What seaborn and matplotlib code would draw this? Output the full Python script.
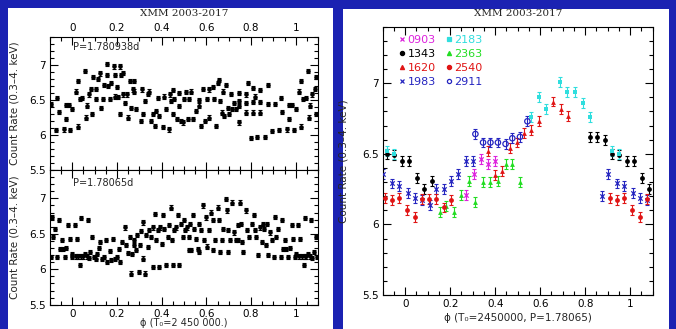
import numpy as np
import pandas as pd
import matplotlib.pyplot as plt
import seaborn as sns
from matplotlib.patches import Rectangle
from matplotlib.lines import Line2D
from matplotlib.ticker import MultipleLocator

sns.set_style("ticks")
plt.rcParams["font.family"] = ["DejaVu Sans"]

# ---- data (phases in [0, 1), wrapped when drawn) ----
ERR = 0.03

# left top: P=1.780938d
top_phase = [0.000, 0.015, 0.025, 0.025, 0.033, 0.045, 0.055, 0.060, 0.065, 0.074,
             0.085, 0.089, 0.092, 0.104, 0.107, 0.115, 0.122, 0.129, 0.137, 0.144,
             0.155, 0.155, 0.159, 0.167, 0.174, 0.185, 0.189, 0.193, 0.199, 0.204,
             0.214, 0.214, 0.219, 0.226, 0.229, 0.238, 0.246, 0.249, 0.256, 0.263,
             0.271, 0.278, 0.286, 0.278, 0.308, 0.313, 0.318, 0.327, 0.338, 0.345,
             0.353, 0.360, 0.368, 0.375, 0.382, 0.390, 0.405, 0.412, 0.420, 0.438,
             0.435, 0.442, 0.449, 0.452, 0.457, 0.467, 0.476, 0.479, 0.487, 0.494,
             0.501, 0.509, 0.516, 0.524, 0.531, 0.539, 0.554, 0.565, 0.568, 0.576,
             0.586, 0.595, 0.601, 0.610, 0.613, 0.628, 0.635, 0.643, 0.650, 0.655,
             0.661, 0.670, 0.676, 0.680, 0.688, 0.695, 0.702, 0.710, 0.717, 0.725,
             0.735, 0.747, 0.747, 0.747, 0.747, 0.777, 0.777, 0.777, 0.787, 0.811,
             0.811, 0.811, 0.817, 0.841, 0.841, 0.841, 0.874, 0.874, 0.906, 0.933,
             0.941, 0.970, 0.970, 0.985, 0.799, 0.829, 0.862, 0.896, 0.925, 0.962,
             0.991]
top_rate = [6.37, 6.62, 6.12, 6.77, 6.52, 6.53, 6.91, 6.25, 6.42, 6.58,
            6.66, 6.30, 6.83, 6.66, 6.51, 6.80, 6.88, 6.39, 6.51, 6.72,
            7.02, 6.86, 6.70, 6.51, 6.74, 6.98, 6.86, 6.55, 6.69, 6.54,
            6.98, 6.30, 6.86, 6.58, 6.89, 6.46, 6.58, 6.25, 6.77, 6.39,
            6.65, 6.62, 6.37, 6.77, 6.20, 6.65, 6.30, 6.48, 6.59, 6.62,
            6.20, 6.30, 6.13, 6.34, 6.53, 6.27, 6.11, 6.55, 6.37, 6.58,
            6.08, 6.48, 6.64, 6.30, 6.52, 6.23, 6.41, 6.60, 6.20, 6.18,
            6.51, 6.61, 6.23, 6.51, 6.62, 6.23, 6.34, 6.42, 6.50, 6.13,
            6.66, 6.20, 6.51, 6.25, 6.65, 6.69, 6.51, 6.13, 6.74, 6.79,
            6.48, 6.32, 6.62, 6.27, 6.72, 6.39, 6.30, 6.59, 6.37, 6.46,
            6.37, 6.60, 6.49, 6.41, 6.18, 6.58, 6.46, 6.32, 6.74, 6.67,
            6.47, 6.32, 6.55, 6.64, 6.47, 6.32, 6.72, 6.44, 6.44, 6.53,
            6.33, 6.43, 6.23, 6.43, 5.96, 5.97, 5.97, 6.06, 6.07, 6.08,
            6.07]

# left bottom: P=1.78065d
bot_phase = [0.000, 0.010, 0.015, 0.021, 0.027, 0.036, 0.040, 0.040, 0.048, 0.055,
             0.065, 0.070, 0.074, 0.080, 0.089, 0.095, 0.104, 0.110, 0.119, 0.125,
             0.134, 0.140, 0.149, 0.155, 0.167, 0.174, 0.182, 0.189, 0.199, 0.208,
             0.214, 0.223, 0.234, 0.241, 0.249, 0.256, 0.263, 0.268, 0.274, 0.278,
             0.286, 0.289, 0.298, 0.301, 0.308, 0.315, 0.315, 0.327, 0.330, 0.338,
             0.345, 0.353, 0.360, 0.363, 0.372, 0.375, 0.382, 0.390, 0.393, 0.402,
             0.405, 0.412, 0.420, 0.427, 0.435, 0.442, 0.446, 0.449, 0.457, 0.464,
             0.472, 0.479, 0.487, 0.494, 0.501, 0.506, 0.512, 0.521, 0.524, 0.527,
             0.531, 0.539, 0.546, 0.554, 0.561, 0.565, 0.568, 0.576, 0.586, 0.591,
             0.598, 0.601, 0.613, 0.621, 0.628, 0.631, 0.640, 0.650, 0.655, 0.661,
             0.670, 0.676, 0.688, 0.691, 0.695, 0.699, 0.705, 0.717, 0.725, 0.732,
             0.740, 0.744, 0.750, 0.754, 0.759, 0.765, 0.777, 0.784, 0.792, 0.804,
             0.814, 0.818, 0.824, 0.833, 0.839, 0.848, 0.854, 0.859, 0.866, 0.873,
             0.878, 0.884, 0.893, 0.903, 0.908, 0.914, 0.923, 0.933, 0.940, 0.943,
             0.952, 0.958, 0.967, 0.973, 0.982, 0.988, 0.997]
bot_rate = [6.22, 6.62, 6.18, 6.43, 6.18, 6.06, 6.72, 6.18, 6.18, 6.22,
            6.18, 6.69, 6.16, 6.24, 6.45, 6.17, 6.15, 6.22, 6.30, 6.38,
            6.14, 6.17, 6.41, 6.10, 6.26, 6.13, 6.43, 6.14, 6.17, 6.29,
            6.10, 6.38, 6.59, 6.34, 6.23, 6.46, 5.94, 6.22, 6.41, 6.34,
            6.27, 6.48, 5.96, 6.34, 6.54, 6.66, 6.15, 5.94, 6.48, 6.31,
            6.55, 6.45, 6.03, 6.59, 6.78, 6.41, 6.55, 6.03, 6.59, 6.36,
            6.76, 6.57, 6.06, 6.45, 6.62, 6.87, 6.41, 6.06, 6.55, 6.59,
            6.76, 6.06, 6.64, 6.45, 6.69, 6.55, 6.59, 6.27, 6.45, 6.64,
            6.27, 6.76, 6.57, 6.43, 6.29, 6.24, 6.64, 6.55, 6.90, 6.41,
            6.73, 6.32, 6.55, 6.80, 6.27, 6.69, 6.41, 6.87, 6.69, 6.24,
            6.41, 6.57, 6.99, 6.83, 6.24, 6.55, 6.41, 6.94, 6.52, 6.41,
            6.62, 6.41, 6.94, 6.64, 6.38, 6.24, 6.83, 6.55, 6.45, 6.64,
            6.76, 6.55, 6.45, 6.20, 6.59, 6.38, 6.64, 6.57, 6.34, 6.64,
            6.20, 6.52, 6.41, 6.17, 6.74, 6.45, 6.57, 6.17, 6.69, 6.29,
            6.41, 6.29, 6.17, 6.30, 6.62, 6.43, 6.17]

# right panel, one array pair per observation
obs_labels = ["0903", "1343", "1620", "1983", "2183", "2363", "2540", "2911"]
ph_0903 = [0.272, 0.305, 0.339, 0.368, 0.401]
cr_0903 = [6.21, 6.36, 6.46, 6.43, 6.45]
ph_1343 = [0.019, 0.052, 0.085, 0.119, 0.822, 0.854, 0.889, 0.918, 0.952, 0.985]
cr_1343 = [6.45, 6.33, 6.25, 6.31, 6.62, 6.62, 6.60, 6.50, 6.49, 6.45]
ph_1620 = [0.367, 0.397, 0.431, 0.465, 0.498, 0.528, 0.560, 0.594, 0.659, 0.692, 0.724]
cr_1620 = [6.52, 6.35, 6.38, 6.54, 6.58, 6.65, 6.67, 6.73, 6.87, 6.82, 6.77]
ph_1983 = [0.011, 0.042, 0.075, 0.108, 0.138, 0.171, 0.204, 0.234, 0.268, 0.302,
           0.874, 0.903, 0.941, 0.973]
cr_1983 = [6.22, 6.19, 6.17, 6.14, 6.25, 6.25, 6.31, 6.36, 6.45, 6.45,
           6.20, 6.36, 6.29, 6.27]
ph_2183 = [0.557, 0.594, 0.624, 0.688, 0.721, 0.754, 0.789, 0.822, 0.918, 0.952]
cr_2183 = [6.76, 6.90, 6.82, 7.01, 6.94, 6.94, 6.86, 6.76, 6.52, 6.50]
ph_2363 = [0.153, 0.183, 0.216, 0.250, 0.282, 0.312, 0.346, 0.379, 0.412, 0.446,
           0.476, 0.510]
cr_2363 = [6.09, 6.13, 6.09, 6.21, 6.31, 6.16, 6.30, 6.30, 6.31, 6.43,
           6.43, 6.30]
ph_2540 = [0.008, 0.042, 0.075, 0.104, 0.138, 0.171, 0.204, 0.911, 0.941, 0.973]
cr_2540 = [6.10, 6.05, 6.18, 6.18, 6.18, 6.12, 6.17, 6.19, 6.17, 6.19]
ph_2911 = [0.312, 0.346, 0.379, 0.412, 0.446, 0.476, 0.510, 0.543]
cr_2911 = [6.64, 6.58, 6.58, 6.58, 6.57, 6.61, 6.62, 6.73]

obs_phase = [ph_0903, ph_1343, ph_1620, ph_1983, ph_2183, ph_2363, ph_2540, ph_2911]
obs_rate = [cr_0903, cr_1343, cr_1620, cr_1983, cr_2183, cr_2363, cr_2540, cr_2911]

# styles for the observations
obs_colors = ["#dd22dd", "black", "#e01515", "#2525c0",
              "#30dede", "#22dd22", "#e01515", "#2525c0"]
obs_markers = ["x", "o", "^", "x", "s", "^", "o", "o"]
obs_filled = [True, True, True, True, True, True, True, False]

XLIM = (-0.1, 1.1)
YLIM = (5.5, 7.4)
YLABEL = "Count Rate (0.3\u20134. keV)"


def wrap(phase, rate):
    ph = np.asarray(phase)
    cr = np.asarray(rate)
    xs = np.concatenate([ph - 1, ph, ph + 1])
    ys = np.concatenate([cr, cr, cr])
    keep = (xs >= XLIM[0]) & (xs <= XLIM[1])
    return pd.DataFrame({"phase": xs[keep], "rate": ys[keep]})


def style_axis(ax, labeltop=False, labelbottom=True):
    ax.set_xlim(*XLIM)
    ax.set_ylim(*YLIM)
    ax.xaxis.set_minor_locator(MultipleLocator(0.05))
    ax.yaxis.set_minor_locator(MultipleLocator(0.1))
    ax.set_xticks([0, 0.2, 0.4, 0.6, 0.8, 1.0])
    ax.set_xticklabels(["0", "0.2", "0.4", "0.6", "0.8", "1"])
    ax.set_yticks([5.5, 6, 6.5, 7])
    ax.set_yticklabels(["5.5", "6", "6.5", "7"])
    ax.tick_params(which="both", direction="in", top=True, right=True,
                   labeltop=labeltop, labelbottom=labelbottom,
                   labelsize=7.5, width=0.8, colors="black", pad=3)
    ax.tick_params(which="major", length=6)
    ax.tick_params(which="minor", length=3)
    for s in ax.spines.values():
        s.set_linewidth(0.8)
        s.set_color("black")
    ax.set_facecolor("white")


def draw_black(ax, phase, rate):
    df = wrap(phase, rate)
    ax.errorbar(df["phase"], df["rate"], yerr=ERR, fmt="none", ecolor="black",
                elinewidth=0.8, capsize=1.7, capthick=0.8, zorder=2)
    sns.scatterplot(data=df, x="phase", y="rate", ax=ax, color="black",
                    s=11, linewidth=0, zorder=3, legend=False)


fig = plt.figure(figsize=(6.76, 3.29), dpi=100)
fig.patch.set_facecolor("#1b22b2")
W, H = 676.0, 329.0
fig.add_artist(Rectangle((8 / W, 0), (333 - 8) / W, (H - 8) / H,
                         transform=fig.transFigure, facecolor="white",
                         edgecolor="none", zorder=0))
fig.add_artist(Rectangle((343 / W, 0), (669 - 343) / W, (H - 9) / H,
                         transform=fig.transFigure, facecolor="white",
                         edgecolor="none", zorder=0))

ax_top = fig.add_axes([50 / W, 1 - 170 / H, 268 / W, 133 / H])
ax_bot = fig.add_axes([50 / W, 1 - 304.7 / H, 268 / W, 134.7 / H])
ax_r = fig.add_axes([382.7 / W, 1 - 295 / H, 270 / W, 268.3 / H])

# left top
draw_black(ax_top, top_phase, top_rate)
style_axis(ax_top, labeltop=True, labelbottom=False)
ax_top.set_xlabel("")
ax_top.set_ylabel(YLABEL, fontsize=7.5)
ax_top.yaxis.set_label_coords(-0.112, 0.5)
ax_top.text(0.086, 0.925, "P=1.780938d", transform=ax_top.transAxes,
            fontsize=7, va="center", ha="left")

# left bottom
draw_black(ax_bot, bot_phase, bot_rate)
style_axis(ax_bot)
ax_bot.set_ylabel(YLABEL, fontsize=7.5)
ax_bot.yaxis.set_label_coords(-0.112, 0.5)
ax_bot.set_xlabel("\u03d5 (T\u2080=2 450 000.)", fontsize=7)
ax_bot.xaxis.set_label_coords(0.5, -0.10)
ax_bot.text(0.086, 0.90, "P=1.78065d", transform=ax_bot.transAxes,
            fontsize=7, va="center", ha="left")

# right panel
handles = []
for lab, ph, cr, col, mk, filled in zip(obs_labels, obs_phase, obs_rate,
                                        obs_colors, obs_markers, obs_filled):
    df = wrap(ph, cr)
    ax_r.errorbar(df["phase"], df["rate"], yerr=ERR + 0.005, fmt="none",
                  ecolor=col, elinewidth=0.8, capsize=1.7, capthick=0.8,
                  zorder=2)
    if mk == "x":
        sns.scatterplot(data=df, x="phase", y="rate", ax=ax_r, marker="x",
                        color=col, s=10, linewidth=0.9, zorder=3, legend=False)
    elif filled:
        sns.scatterplot(data=df, x="phase", y="rate", ax=ax_r, marker=mk,
                        color=col, s=12, linewidth=0, zorder=3, legend=False)
    else:
        sns.scatterplot(data=df, x="phase", y="rate", ax=ax_r, marker=mk,
                        facecolors="none", edgecolor=col, s=15,
                        linewidth=0.9, zorder=3, legend=False)
    handles.append(Line2D([], [], linestyle="none", marker=mk, markersize=3,
                          color=col, markerfacecolor=col if filled else "none",
                          markeredgewidth=0.9))

style_axis(ax_r)
ax_r.set_ylabel(YLABEL, fontsize=7.5)
ax_r.yaxis.set_label_coords(-0.125, 0.5)
ax_r.set_xlabel("\u03d5 (T\u2080=2450000, P=1.78065)", fontsize=7.5, labelpad=3)
ax_r.legend(handles, obs_labels, ncol=2, loc="upper left",
            bbox_to_anchor=(0.045, 0.985), frameon=False, fontsize=8,
            handlelength=0.5, handletextpad=0.25, columnspacing=0.9,
            labelspacing=0.35, labelcolor=obs_colors, borderaxespad=0)

# titles
fig.text((50 + 318) / 2 / W, 1 - 14 / H, "XMM 2003-2017", ha="center",
         va="center", fontsize=7.5, family="DejaVu Serif")
fig.text((382.7 + 652.7) / 2 / W, 1 - 14 / H, "XMM 2003-2017", ha="center",
         va="center", fontsize=7.5, family="DejaVu Serif")

fig.savefig("out.png", dpi=100, facecolor=fig.get_facecolor())
